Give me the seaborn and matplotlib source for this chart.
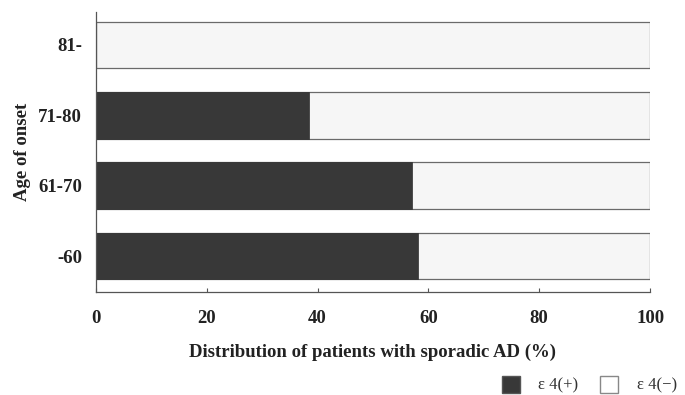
import matplotlib
matplotlib.use("Agg")
from matplotlib import pyplot as plt
from matplotlib.patches import Patch
import seaborn as sns
import pandas as pd

# age groups, top to bottom
ages = ["81-", "71-80", "61-70", "-60"]
e4_pos = [0, 38.5, 57.0, 58.2]   # % of patients with e4(+)
total = [100, 100, 100, 100]

df = pd.DataFrame({"age": ages, "pos": e4_pos, "total": total})

sns.set_style("ticks")
plt.rcParams["font.family"] = ["Liberation Serif", "DejaVu Serif"]

fig = plt.figure(figsize=(6.85, 3.95), dpi=100)
ax = fig.add_axes([0.140, 0.261, 0.809, 0.709])

dark = "#383838"
light = "#f6f6f6"

# background bars (e4 -) then e4 (+) on top
sns.barplot(data=df, x="total", y="age", orient="h", color=light,
            edgecolor="#6a6a6a", linewidth=0.9, width=0.66, ax=ax)
sns.barplot(data=df, x="pos", y="age", orient="h", color=dark,
            edgecolor="#303030", linewidth=0.5, width=0.66, ax=ax)

ax.set_xlim(0, 100)
ax.set_ylim(3.51, -0.47)
ax.set_xticks([0, 20, 40, 60, 80, 100])
ax.tick_params(axis="both", direction="in", length=3, color="#555555",
               labelsize=13.5, labelcolor="#222222")
ax.tick_params(axis="x", pad=13)
ax.tick_params(axis="y", pad=10)
for lab in ax.get_xticklabels() + ax.get_yticklabels():
    lab.set_fontweight("bold")
ax.set_xlabel("Distribution of patients with sporadic AD (%)",
              fontsize=13.5, fontweight="bold", labelpad=12, color="#222222")
ax.set_ylabel("Age of onset", fontsize=13.5, fontweight="bold", labelpad=5,
              color="#222222")
sns.despine(ax=ax)
for s in ["left", "bottom"]:
    ax.spines[s].set_color("#555555")
    ax.spines[s].set_linewidth(0.9)

handles = [Patch(facecolor=dark, edgecolor="#555555", label="ε 4(+)"),
           Patch(facecolor="white", edgecolor="#888888", label="ε 4(−)")]
fig.legend(handles=handles, loc="lower right", bbox_to_anchor=(1.01, -0.035),
           ncol=2, frameon=False, fontsize=12, handlelength=1.1,
           handleheight=1.2, columnspacing=1.3, handletextpad=1.1,
           labelcolor="#333333")

fig.savefig("out.png", dpi=100)
